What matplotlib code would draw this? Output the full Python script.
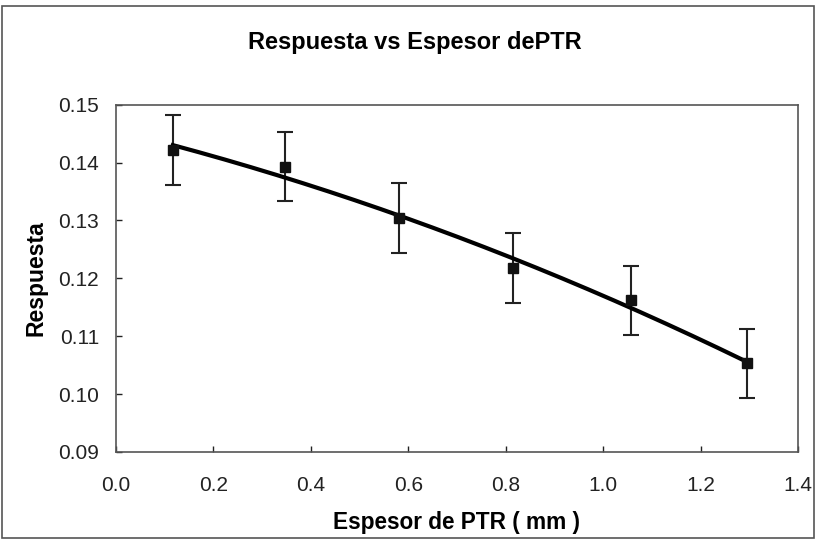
import numpy as np
import matplotlib
matplotlib.use("Agg")
import matplotlib.pyplot as plt

plt.rcParams['font.family'] = ['Liberation Sans', 'DejaVu Sans']

espesor = [0.117, 0.347, 0.581, 0.815, 1.058, 1.295]
respuesta = [0.1422, 0.1393, 0.1304, 0.1218, 0.1162, 0.1053]
error = [0.0060, 0.0060, 0.0060, 0.0060, 0.0060, 0.0060]
xticks = [0.0, 0.2, 0.4, 0.6, 0.8, 1.0, 1.2, 1.4]
yticks = [0.09, 0.10, 0.11, 0.12, 0.13, 0.14, 0.15]

fig = plt.figure(figsize=(8.16, 5.4), dpi=100)
ax = fig.add_axes([0.142, 0.163, 0.836, 0.643])

# polynomial (2nd order) trend line fitted to the data
coef = np.polyfit(espesor, respuesta, 2)
xf = np.linspace(min(espesor), max(espesor), 200)
ax.plot(xf, np.polyval(coef, xf), color='black', lw=3, zorder=3)

ax.errorbar(espesor, respuesta, yerr=error, fmt='none', ecolor='#222222',
            elinewidth=1.5, capsize=6, capthick=1.5, zorder=2)
ax.plot(espesor, respuesta, linestyle='none', marker='s', markersize=6.5,
        color='#111111', zorder=4)

ax.set_xlim(0.0, 1.4)
ax.set_ylim(0.09, 0.15)
ax.set_xticks(xticks)
ax.set_xticklabels([f"{v:.1f}" for v in xticks])
ax.set_yticks(yticks)
ax.set_yticklabels([f"{v:.2f}" for v in yticks])
ax.tick_params(direction='in', length=4, width=1, labelsize=15, colors='#222222')
ax.tick_params(axis='x', pad=17)
ax.tick_params(axis='y', pad=12)
for s in ax.spines.values():
    s.set_color('#555555')
    s.set_linewidth(1.2)

ax.set_xlabel('Espesor de PTR ( mm )', fontsize=16.3, fontweight='bold', labelpad=12)
ax.set_ylabel('Respuesta', fontsize=16.5, fontweight='bold', labelpad=8)
fig.text(0.508, 0.922, 'Respuesta vs Espesor dePTR', ha='center', va='center',
         fontsize=17, fontweight='bold')

# outer chart border
border = plt.Rectangle((0.003, 0.003), 0.994, 0.985, transform=fig.transFigure,
                       fill=False, edgecolor='#555555', lw=1.2)
fig.patches.append(border)

fig.savefig('out.png', dpi=100)
